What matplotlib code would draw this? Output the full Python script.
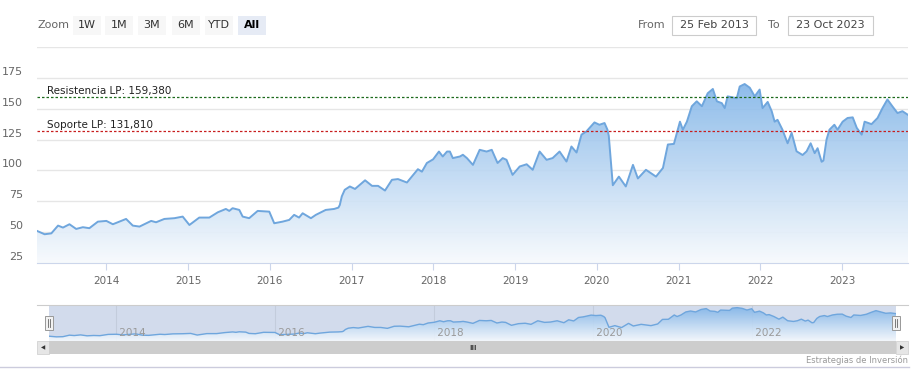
import matplotlib
matplotlib.use("Agg")
import matplotlib.pyplot as plt
import matplotlib.dates as mdates
import matplotlib.transforms as mtransforms
from matplotlib.colors import LinearSegmentedColormap
from matplotlib.patches import Rectangle, Polygon
import numpy as np
import pandas as pd

# price series
dates = [
    "2013-02-25", "2013-03-31", "2013-04-30", "2013-05-30", "2013-06-21", "2013-07-20",
    "2013-08-19", "2013-09-18", "2013-10-17", "2013-11-24", "2014-01-01", "2014-01-30",
    "2014-03-30", "2014-04-29", "2014-05-29", "2014-07-20", "2014-08-11", "2014-09-17",
    "2014-11-01", "2014-12-08", "2015-01-07", "2015-02-20", "2015-04-06", "2015-05-14",
    "2015-06-19", "2015-07-04", "2015-07-19", "2015-08-18", "2015-09-02", "2015-10-01",
    "2015-11-08", "2015-12-30", "2016-01-21", "2016-02-27", "2016-03-28", "2016-04-19",
    "2016-05-11", "2016-05-27", "2016-07-03", "2016-07-25", "2016-09-07", "2016-10-15",
    "2016-11-03", "2016-11-09", "2016-11-18", "2016-12-01", "2016-12-24", "2017-01-16",
    "2017-03-02", "2017-04-02", "2017-04-29", "2017-05-30", "2017-06-30", "2017-07-27",
    "2017-09-05", "2017-10-24", "2017-11-11", "2017-12-03", "2017-12-31", "2018-01-26",
    "2018-02-12", "2018-03-03", "2018-03-16", "2018-03-29", "2018-04-30", "2018-05-13",
    "2018-05-31", "2018-06-27", "2018-07-27", "2018-08-27", "2018-09-19", "2018-10-15",
    "2018-11-07", "2018-11-24", "2018-12-21", "2019-01-22", "2019-02-22", "2019-03-21",
    "2019-04-21", "2019-05-22", "2019-06-18", "2019-07-19", "2019-08-19", "2019-09-10",
    "2019-10-03", "2019-10-25", "2019-11-16", "2019-12-22", "2020-01-13", "2020-02-05",
    "2020-02-18", "2020-02-24", "2020-03-13", "2020-04-09", "2020-05-10", "2020-06-11",
    "2020-07-03", "2020-08-08", "2020-09-22", "2020-10-23", "2020-11-14", "2020-12-11",
    "2021-01-07", "2021-01-20", "2021-02-07", "2021-03-01", "2021-03-23", "2021-04-15",
    "2021-05-11", "2021-06-03", "2021-06-21", "2021-07-13", "2021-07-26", "2021-08-08",
    "2021-09-18", "2021-10-01", "2021-10-23", "2021-11-15", "2021-12-07", "2021-12-29",
    "2022-01-11", "2022-02-03", "2022-02-21", "2022-03-06", "2022-03-19", "2022-04-10",
    "2022-05-03", "2022-05-21", "2022-06-12", "2022-07-09", "2022-07-27", "2022-08-14",
    "2022-09-01", "2022-09-14", "2022-10-02", "2022-10-10", "2022-10-24", "2022-11-06",
    "2022-11-28", "2022-12-12", "2023-01-04", "2023-01-26", "2023-02-18", "2023-03-08",
    "2023-03-30", "2023-04-12", "2023-05-13", "2023-06-09", "2023-07-01", "2023-07-23",
    "2023-08-14", "2023-09-06", "2023-09-28", "2023-10-23",
]
prices = [
    51, 48.3, 49, 55.3, 53.7, 56.4,
    52.6, 54, 53.2, 58.5, 59.1, 56.4,
    60.7, 55.3, 54.5, 59.1, 58, 60.7,
    61.3, 62.6, 55.8, 61.8, 61.8, 66.1,
    68.8, 67.2, 69.4, 68, 62.6, 61.3,
    67.2, 66.6, 57.2, 58.5, 59.9, 64,
    61.8, 65.3, 61.3, 64, 68, 68.8,
    69.9, 72, 79, 84.3, 87, 85,
    92, 87.5, 87.5, 83.7, 92.4, 93,
    90.2, 101, 99, 106, 109, 115.3,
    111.3, 115.3, 115.3, 110, 111.3, 112.7,
    110, 104.5, 116.7, 115.3, 116.7, 106,
    110, 108.6, 96.4, 103.2, 105, 100.5,
    115.3, 108.6, 110, 115.3, 107.2, 119.4,
    114.5, 129, 131.6, 138.9, 137, 138.4,
    133, 128, 88, 95, 87, 104.5,
    93.5, 100.5, 95, 102, 121, 121.5,
    139.5, 133, 139.5, 152, 156, 152,
    162.5, 166, 156, 154.5, 150.5, 160,
    158.5, 168, 170, 167, 160, 165.5,
    150.5, 155.5, 148, 139.5, 141, 133,
    122, 130.5, 115.5, 112.5, 115.5, 122,
    114, 118, 107, 108, 125, 133,
    137, 133, 139.5, 142.5, 143, 134.5,
    129, 139.5, 137.5, 142.5, 150.5, 157.5,
    152, 146.5, 148, 145,
]

resistance = 159.38
support = 131.81
resistance_label = "Resistencia LP: 159,380"
support_label = "Soporte LP: 131,810"
y_ticks = [25, 50, 75, 100, 125, 150, 175, 200]
x_ticks = [str(y) for y in range(2014, 2024)]
nav_ticks = ["2014", "2016", "2018", "2020", "2022"]
zoom_buttons = ["1W", "1M", "3M", "6M", "YTD", "All"]
from_date = "25 Feb 2013"
to_date = "23 Oct 2023"
credits = "Estrategias de Inversión"

W, H = 916, 378
fig = plt.figure(figsize=(W / 100, H / 100), dpi=100)
plt.rcParams['font.family'] = ['DejaVu Sans']


def fx(px):
    return px / W


def fy(py):
    return 1 - py / H


x = mdates.date2num(pd.to_datetime(dates))
y = np.array(prices, dtype=float)
cmap = LinearSegmentedColormap.from_list("area", ["#f7fafd", "#80b4e8"])


def gradient_area(ax, bottom, top):
    verts = np.column_stack([np.r_[x, x[::-1]], np.r_[y, np.full_like(y, bottom)]])
    poly = Polygon(verts, closed=True, facecolor="none", edgecolor="none")
    ax.add_patch(poly)
    grad = np.linspace(1, 0, 256).reshape(-1, 1)
    im = ax.imshow(grad, extent=[x[0], x[-1], bottom, top], aspect="auto",
                   cmap=cmap, origin="upper", alpha=0.9, zorder=1)
    im.set_clip_path(poly)


# ---- main chart ----
ax = fig.add_axes([fx(37), fy(263), fx(908) - fx(37), (263 - 47) / H])
gradient_area(ax, 25, 172)
ax.plot(x, y, color="#6fa6dd", lw=1.4, zorder=2)
ax.set_xlim(x[0], x[-1])
ax.set_ylim(25, 200)

ax.set_yticks(y_ticks)
ax.set_yticklabels([])
ax.tick_params(axis="y", length=0)
ax.grid(axis="y", color="#e6e6e6", lw=1)
ax.set_axisbelow(True)
for s in ["top", "left", "right"]:
    ax.spines[s].set_visible(False)
ax.spines["bottom"].set_color("#ccd6eb")

ylab_tr = mtransforms.blended_transform_factory(ax.transAxes, ax.transData) + \
    mtransforms.ScaledTranslation(-0.14, 0.06, fig.dpi_scale_trans)
for v in y_ticks[:-1]:
    ax.text(0, v, str(v), transform=ylab_tr, ha="right", va="center",
            fontsize=8, color="#666666")

ax.set_xticks(mdates.date2num(pd.to_datetime([t + "-01-01" for t in x_ticks])))
ax.set_xticklabels(x_ticks)
ax.tick_params(axis="x", length=5, color="#ccd6eb", pad=4, labelsize=7.5,
               labelcolor="#666666")

ax.axhline(resistance, color="#1d6b1d", lw=0.9, ls=(0, (2, 1.6)), zorder=3)
ax.axhline(support, color="#c81e1e", lw=0.9, ls=(0, (2, 1.6)), zorder=3)
lab_tr = mtransforms.blended_transform_factory(ax.transAxes, ax.transData) + \
    mtransforms.ScaledTranslation(0.10, 0.035, fig.dpi_scale_trans)
ax.text(0, resistance, resistance_label, transform=lab_tr, fontsize=7.5,
        color="#222222", va="baseline")
ax.text(0, support, support_label, transform=lab_tr, fontsize=7.5,
        color="#222222", va="baseline")

# ---- navigator ----
nav = fig.add_axes([fx(49), fy(341), fx(896) - fx(49), 36 / H])
nav.set_facecolor("#d2dbec")
gradient_area(nav, 31, 172)
nav.plot(x, y, color="#6fa6dd", lw=1, zorder=2)
nav.set_xlim(x[0], x[-1])
nav.set_ylim(31, 181)
nav.set_xticks([])
nav.set_yticks([])
for s in nav.spines.values():
    s.set_visible(False)
nav_tr = mtransforms.blended_transform_factory(nav.transData, nav.transAxes)
for t in nav_ticks:
    xd = mdates.date2num(pd.Timestamp(t + "-01-01"))
    nav.axvline(xd, color="#c3ccdc", lw=0.8, zorder=0.5)
    nav.text(xd, 0.22, " " + t, transform=nav_tr, fontsize=7.5, color="#9a9a9a",
             ha="left", va="center", zorder=3)

# navigator frame, handles and scrollbar
fig.add_artist(plt.Line2D([fx(37), fx(908)], [fy(305), fy(305)], color="#cccccc",
                          lw=0.8, transform=fig.transFigure))
fig.add_artist(Rectangle((fx(49), fy(354)), fx(896) - fx(49), 13 / H,
                         transform=fig.transFigure, facecolor="#cdcdcd", edgecolor="none"))
for bx0 in (37, 896):
    fig.add_artist(Rectangle((fx(bx0), fy(354)), 12 / W, 13 / H,
                             transform=fig.transFigure, facecolor="#e6e6e6",
                             edgecolor="#cccccc", lw=0.5))
fig.text(fx(43), fy(347.5), "◀", fontsize=4, color="#333333", ha="center", va="center")
fig.text(fx(902), fy(347.5), "▶", fontsize=4, color="#333333", ha="center", va="center")
fig.text(fx(473), fy(347.5), "III", fontsize=5, color="#444444", ha="center",
         va="center", fontweight="bold")
for hx in (49, 896):
    fig.add_artist(Rectangle((fx(hx - 4), fy(330)), 8 / W, 14 / H,
                             transform=fig.transFigure, facecolor="#f2f2f2",
                             edgecolor="#999999", lw=0.7))
    for dx in (-1, 1):
        fig.add_artist(plt.Line2D([fx(hx + dx), fx(hx + dx)], [fy(327), fy(319)],
                                  color="#666666", lw=0.6, transform=fig.transFigure))

fig.add_artist(plt.Line2D([0, fx(909)], [fy(367), fy(367)], color="#ccccdd",
                          lw=1, transform=fig.transFigure))
fig.text(fx(908), fy(360), credits, fontsize=6, color="#999999", ha="right", va="center")

# ---- range selector ----
fig.text(fx(37), fy(25.5), "Zoom", fontsize=8, color="#666666", va="center")
bx = [73, 105, 138, 172, 205, 238]
for label, b in zip(zoom_buttons, bx):
    sel = label == "All"
    fig.add_artist(Rectangle((fx(b), fy(35)), 28 / W, 19 / H, transform=fig.transFigure,
                             facecolor="#e6ebf5" if sel else "#f7f7f7", edgecolor="none"))
    fig.text(fx(b + 14), fy(25.5), label, fontsize=8, ha="center", va="center",
             color="#000000" if sel else "#333333",
             fontweight="bold" if sel else "normal")

fig.text(fx(638), fy(25.5), "From", fontsize=8, color="#666666", va="center")
fig.text(fx(768), fy(25.5), "To", fontsize=8, color="#666666", va="center")
for (b0, b1), txt in zip([(672, 756), (788, 873)], [from_date, to_date]):
    fig.add_artist(Rectangle((fx(b0), fy(35)), (b1 - b0) / W, 19 / H,
                             transform=fig.transFigure, facecolor="white",
                             edgecolor="#cccccc", lw=0.8))
    fig.text(fx((b0 + b1) / 2), fy(25.5), txt, fontsize=8, color="#444444",
             ha="center", va="center")

fig.savefig("out.png", dpi=100)
